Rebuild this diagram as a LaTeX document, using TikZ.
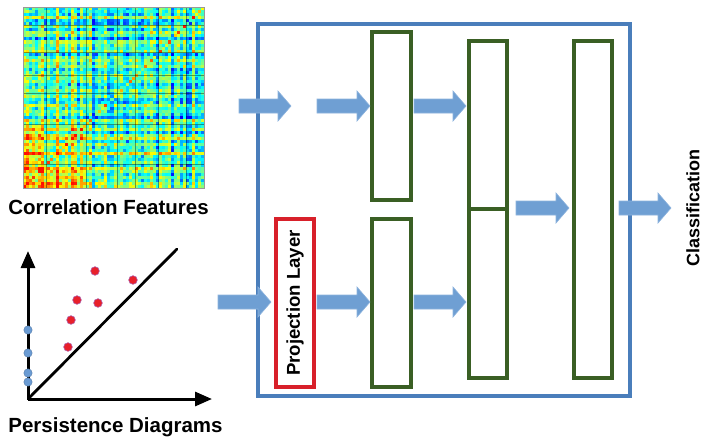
\documentclass[tikz,border=0pt]{standalone}
\usepackage{fontspec}
\setmainfont{Liberation Sans}
\usetikzlibrary{arrows.meta}
\definecolor{boxblue}{HTML}{4A7EBB}
\definecolor{arrfill}{HTML}{6F9FD3}
\definecolor{arredge}{HTML}{8DB3DD}
\definecolor{layergreen}{HTML}{3A5F24}
\definecolor{projred}{HTML}{D8202A}
\definecolor{dotred}{HTML}{E8202A}
\definecolor{dotblue}{HTML}{6A9BD3}
\tikzset{
  outerbox/.style={draw=boxblue, line width=3.3pt},
  layerbox/.style={draw=layergreen, line width=3.4pt},
  projbox/.style={draw=projred, line width=3.3pt},
  arrowsty/.style={fill=arrfill, draw=arredge, line width=0.6pt, line join=miter},
  lbl/.style={font=\bfseries\fontsize{20.5}{24}\selectfont, inner sep=0pt},
  rotlbl/.style={font=\bfseries\fontsize{18.6}{22}\selectfont, rotate=90, inner sep=0pt},
  axisline/.style={line width=3pt, -{Triangle[length=17pt,width=14pt]}},
  reddot/.style={fill=dotred, draw=dotred!60!blue!70, line width=0.6pt},
  bluedot/.style={fill=dotblue, draw=dotblue!80!black, line width=0.4pt},
}
\newcommand{\blockarr}[4]{% name, x1, x2, y
  \coordinate (#1s) at (#2,#4);
  \coordinate (#1e) at (#3,#4);
  \filldraw[arrowsty] (#2,#4-7) -- (#3-13,#4-7) -- (#3-13,#4-15) -- (#3,#4)
     -- (#3-13,#4+15) -- (#3-13,#4+7) -- (#2,#4+7) -- cycle;}
\newcommand{\akval}[1]{(0.08*sin(#1*137)+0.06*sin(#1*71+30)+0.04*sin(#1*233+10))}
\begin{document}
\begin{tikzpicture}[x=1pt,y=-1pt]
\useasboundingbox (0,0) rectangle (702,437);
\fill[white] (0,0) rectangle (702,437);

% ---------- correlation matrix ----------
\pgfmathsetseed{7}
\pgfmathsetmacro{\cs}{181/60}
\foreach \i in {0,...,59}{
  \foreach \j in {\i,...,59}{
    \pgfmathsetmacro{\v}{0.43 + \akval{\i} + \akval{\j} + 0.2*(rnd-0.5)
       + ((\i<21)&&(\j<21))*0.14
       + ((\i<6)&&(\j<21))*0.1
       + ((\i<21)&&(\j>20))*0.04
       + ((\i==\j))*0.2
       - ((\i>20)&&(\i<34)&&(\j>20)&&(\j<34))*0.05
       - ((\j>50)&&(\i<40))*0.05}
    \pgfmathsetmacro{\v}{max(0.12,min(0.86,\v))}
    \pgfmathsetmacro{\cR}{max(0,min(1,1.5-abs(4*\v-3)))}
    \pgfmathsetmacro{\cG}{max(0,min(1,1.5-abs(4*\v-2)))}
    \pgfmathsetmacro{\cB}{max(0,min(1,1.5-abs(4*\v-1)))}
    \definecolor{cc}{rgb}{\cR,\cG,\cB}
    \fill[cc] (23+\i*\cs,188-\j*\cs-\cs) rectangle ++(\cs+0.3,\cs+0.3);
    \fill[cc] (23+\j*\cs,188-\i*\cs-\cs) rectangle ++(\cs+0.3,\cs+0.3);
  }
}
\foreach \f in {0.13,0.35,0.52,0.62,0.75,0.9}{
  \draw[black, opacity=0.4, line width=0.8pt] (23+\f*181,7) -- (23+\f*181,188);
  \draw[black, opacity=0.4, line width=0.8pt] (23,188-\f*181) -- (204,188-\f*181);
}
\draw[black!40, line width=0.4pt] (23,7) rectangle (204,188);
\node[lbl] (corrlbl) at (108.5,207) {Correlation Features};

% ---------- persistence diagram ----------
\coordinate (orig) at (28,399);
\coordinate (ytip) at (28,251);
\coordinate (xtip) at (212,399);
\coordinate (dtip) at (177,249);
\draw[axisline] (orig) -- (ytip);
\draw[axisline] (orig) -- (xtip);
\draw[line width=2.8pt, line cap=round] (orig) -- (dtip);
\foreach \px/\py in {95/271,133/280,77/300,98/303,71/320,68/347}
  \filldraw[reddot] (\px,\py) circle (4.3);
\foreach \py in {330,353,373,382}
  \filldraw[bluedot] (28,\py) circle (4.2);
\node[lbl] (perslbl) at (115.5,427) {Persistence Diagrams};

% ---------- network ----------
\draw[outerbox] (258,24) rectangle (630,396);
\draw[layerbox] (372,32) rectangle (411,200);
\draw[layerbox] (372,219) rectangle (411,387);
\draw[layerbox] (469,41) rectangle (507,378);
\draw[layergreen, line width=4.5pt] (469,209) -- (507,209);
\draw[layerbox] (574,41) rectangle (612,378);
\draw[projbox] (276,219) rectangle (314,387);
\node[rotlbl] (projlbl) at (295,303) {Projection Layer};
\node[rotlbl, font=\bfseries\fontsize{18}{22}\selectfont] (classlbl) at (693,208) {Classification};

\blockarr{a1}{239}{291}{106}
\blockarr{a2}{317}{370}{106}
\blockarr{a3}{414}{466}{106}
\blockarr{b1}{218}{271}{302}
\blockarr{b2}{317}{370}{302}
\blockarr{b3}{414}{466}{302}
\blockarr{c1}{516}{569}{208}
\blockarr{c2}{619}{671}{208}
\end{tikzpicture}
\end{document}
